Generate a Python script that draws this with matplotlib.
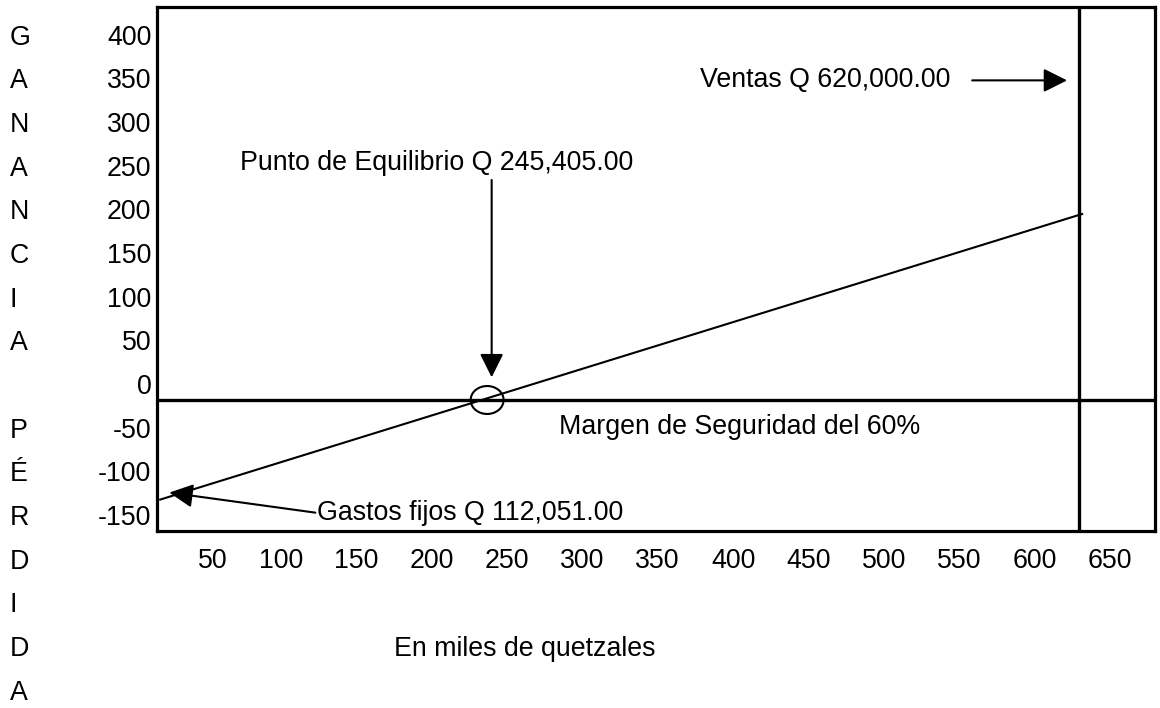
import matplotlib.pyplot as plt
from matplotlib.patches import Ellipse
from matplotlib import transforms

plt.rcParams['font.family'] = ['Liberation Sans', 'DejaVu Sans']
plt.rcParams['font.size'] = 19.3

# axis labels (thousands of quetzales)
x_ticks = [50, 100, 150, 200, 250, 300, 350, 400, 450, 500, 550, 600, 650]
y_ticks = [400, 350, 300, 250, 200, 150, 100, 50, 0, -50, -100, -150]
side_letters = list("GANANCIA") + [""] + list("PÉRDIDA")

# lines
profit_x = [5, 617]
profit_y = [-114, 213]
sales_x = 615
break_even = (222, 0)

fig = plt.figure(figsize=(11.6, 7.08), dpi=100)
ax = fig.add_axes([0.1353, 0.25, 0.8603, 0.7401])
ax.set_xlim(2.8, 665.3)
ax.set_ylim(-150, 450)

for s in ax.spines.values():
    s.set_linewidth(2.3)

ax.set_xticks(x_ticks, [str(v) for v in x_ticks])
ax.set_yticks(y_ticks, [str(v) for v in y_ticks])
ax.tick_params(axis='x', length=0, pad=12)
ax.tick_params(axis='y', length=0, pad=4)
plt.setp(ax.get_xticklabels(), ha='right')
plt.setp(ax.get_yticklabels(), va='bottom')

# zero line and sales line
ax.axhline(0, color='black', lw=2.4)
ax.axvline(sales_x, color='black', lw=2.4)

# profit line
ax.plot(profit_x, profit_y, color='black', lw=1.5, clip_on=False)

ax.add_patch(Ellipse(break_even, 21.9, 32, facecolor='none',
                     edgecolor='black', lw=1.5))

arrow = dict(arrowstyle='-|>,head_length=0.4,head_width=0.2',
             mutation_scale=36, color='black', lw=1.5,
             shrinkA=0, shrinkB=0)

ax.annotate('', xy=(225, 26), xytext=(225, 252), arrowprops=arrow)
ax.text(58, 271, 'Punto de Equilibrio Q 245,405.00', va='center')

ax.annotate('', xy=(607, 366), xytext=(544, 366), arrowprops=arrow)
ax.text(363, 366, 'Ventas Q 620,000.00', va='center')

ax.text(270, -31, 'Margen de Seguridad del 60%', va='center')

ax.annotate('', xy=(11, -106), xytext=(108, -129), arrowprops=arrow)
ax.text(109, -129, 'Gastos fijos Q 112,051.00', va='center')

# side letters and x caption
trans = transforms.blended_transform_factory(fig.transFigure, ax.transData)
for i, ch in enumerate(side_letters):
    fig.text(10 / 1160, 400 - 50 * i, ch, transform=trans, va='bottom', ha='left')

ax.text(247, -300, 'En miles de quetzales', ha='center', va='bottom', clip_on=False)

fig.savefig('out.png', dpi=100)
